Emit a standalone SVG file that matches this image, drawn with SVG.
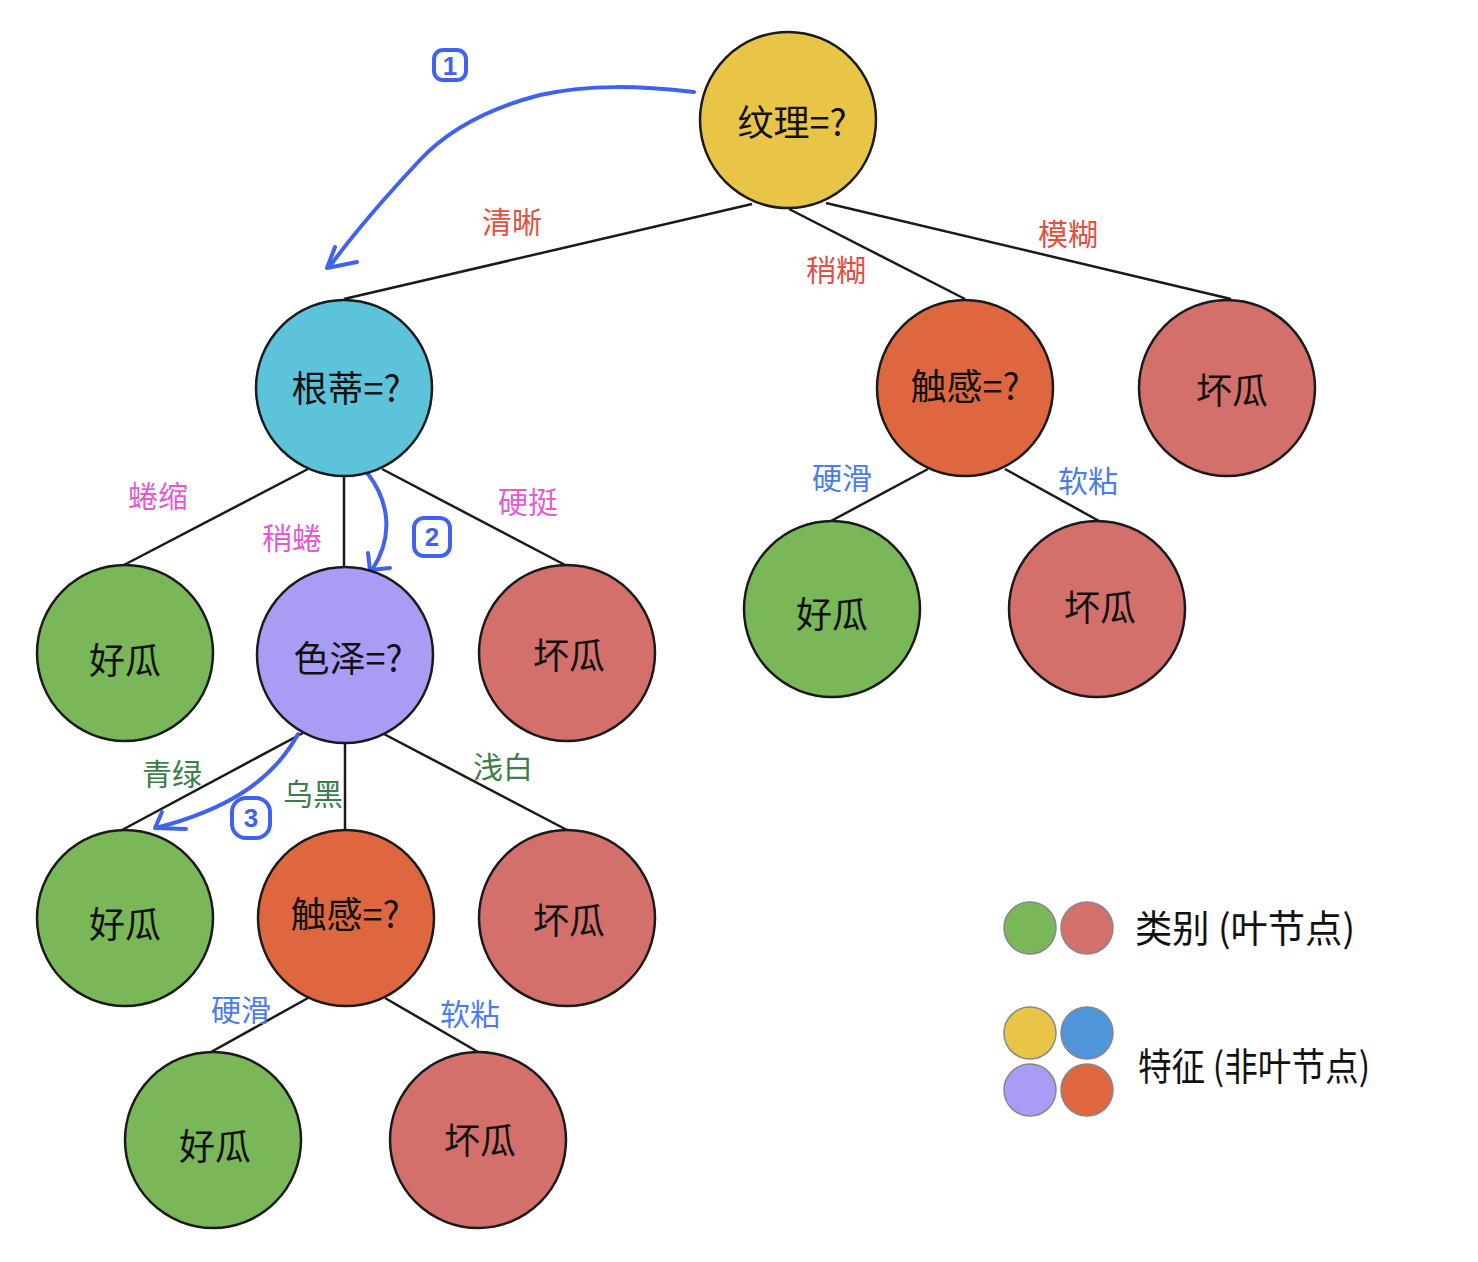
<svg xmlns="http://www.w3.org/2000/svg" width="1478" height="1262" viewBox="0 0 1478 1262">
<style>
.node{stroke:#1a1a1a;stroke-width:2.5}
.yellow{fill:#E8C547}.cyan{fill:#5CC3DB}.orange{fill:#DF6740}.red{fill:#D4706C}.green{fill:#79B758}.purple{fill:#A99CF5}.blue{fill:#4F95DA}
.nt{font-family:"Noto Sans CJK SC","Noto Sans",sans-serif;font-size:36px;fill:#111;text-anchor:middle;dominant-baseline:central}
.edge{stroke:#1a1a1a;stroke-width:2.5;fill:none}
.lab{font-family:"Noto Sans CJK SC","Noto Sans",sans-serif;font-size:30px;text-anchor:middle;dominant-baseline:central}
.r{fill:#E2503F}.m{fill:#E659D2}.g{fill:#3D7D4C}.b{fill:#4B7CEE}
.arrow{stroke:#3F63F0;stroke-width:4;fill:none;stroke-linecap:round;stroke-linejoin:round}
.num{font-family:"Liberation Sans",sans-serif;font-size:26px;font-weight:bold;fill:#3F63F0;text-anchor:middle;dominant-baseline:central}
.leg{stroke:#888;stroke-width:1.5}
.lt{font-family:"Noto Sans CJK SC","Noto Sans",sans-serif;font-size:38px;fill:#111;dominant-baseline:central}
</style>
<g id="connectors">
<line class="edge" x1="752" y1="204" x2="344" y2="299"/>
<line class="edge" x1="789" y1="209" x2="965" y2="299"/>
<line class="edge" x1="826" y1="203" x2="1231" y2="299"/>
<line class="edge" x1="308" y1="469" x2="122" y2="566"/>
<line class="edge" x1="344" y1="477" x2="344" y2="566"/>
<line class="edge" x1="382" y1="469" x2="567" y2="566"/>
<line class="edge" x1="928" y1="469" x2="831" y2="521"/>
<line class="edge" x1="1005" y1="469" x2="1099" y2="521"/>
<line class="edge" x1="303" y1="733" x2="122" y2="830"/>
<line class="edge" x1="345" y1="742" x2="345" y2="830"/>
<line class="edge" x1="382" y1="733" x2="567" y2="830"/>
<line class="edge" x1="308" y1="998" x2="211" y2="1052"/>
<line class="edge" x1="385" y1="998" x2="478" y2="1052"/>
<text class="lab r" x="512" y="220">清晰</text>
<text class="lab r" x="836" y="268">稍糊</text>
<text class="lab r" x="1068" y="232">模糊</text>
<text class="lab m" x="158" y="494">蜷缩</text>
<text class="lab m" x="292" y="536">稍蜷</text>
<text class="lab m" x="528" y="500">硬挺</text>
<text class="lab b" x="842" y="476">硬滑</text>
<text class="lab b" x="1088" y="479">软粘</text>
<text class="lab g" x="172" y="772">青绿</text>
<text class="lab g" x="313" y="792">乌黑</text>
<text class="lab g" x="503" y="765">浅白</text>
<text class="lab b" x="241" y="1008">硬滑</text>
<text class="lab b" x="470" y="1012">软粘</text>
</g>
<g id="steps">
<path class="arrow" d="M694,92 C640,86 590,84 540,95 C490,108 450,128 420,160 C390,192 360,225 330,266"/>
<path class="arrow" d="M335,247 L327,268 L357,262"/>
<rect class="arrow" x="434" y="50" width="32" height="30" rx="9"/>
<text class="num" x="450" y="66">1</text>
<path class="arrow" d="M368,474 C388,500 395,535 372,570"/>
<path class="arrow" d="M368,553 L370,570 L390,568"/>
<rect class="arrow" x="414" y="518" width="36" height="38" rx="10"/>
<text class="num" x="432" y="537">2</text>
<path class="arrow" d="M298,734 C272,782 225,810 156,828"/>
<path class="arrow" d="M162,812 L155,828 L186,829"/>
<rect class="arrow" x="232" y="798" width="38" height="40" rx="14"/>
<text class="num" x="251" y="818">3</text>
</g>
<g id="n-wenli"><circle class="node yellow" cx="788" cy="120" r="88"/><text class="nt" x="792" y="120">纹理=?</text></g>
<g id="n-gendi"><circle class="node cyan" cx="344" cy="388" r="88"/><text class="nt" x="346" y="386">根蒂=?</text></g>
<g id="n-chugan1"><circle class="node orange" cx="965" cy="388" r="88"/><text class="nt" x="965" y="384">触感=?</text></g>
<g id="n-huai1"><circle class="node red" cx="1227" cy="388" r="88"/><text class="nt" x="1232" y="388">坏瓜</text></g>
<g id="n-hao1"><circle class="node green" cx="125" cy="653" r="88"/><text class="nt" x="125" y="658">好瓜</text></g>
<g id="n-sezhe"><circle class="node purple" cx="345" cy="655" r="88"/><text class="nt" x="348" y="656">色泽=?</text></g>
<g id="n-huai2"><circle class="node red" cx="567" cy="653" r="88"/><text class="nt" x="569" y="653">坏瓜</text></g>
<g id="n-hao2"><circle class="node green" cx="832" cy="609" r="88"/><text class="nt" x="832" y="612">好瓜</text></g>
<g id="n-huai3"><circle class="node red" cx="1097" cy="609" r="88"/><text class="nt" x="1100" y="605">坏瓜</text></g>
<g id="n-hao3"><circle class="node green" cx="125" cy="918" r="88"/><text class="nt" x="125" y="922">好瓜</text></g>
<g id="n-chugan2"><circle class="node orange" cx="346" cy="918" r="88"/><text class="nt" x="345" y="912">触感=?</text></g>
<g id="n-huai4"><circle class="node red" cx="567" cy="918" r="88"/><text class="nt" x="569" y="918">坏瓜</text></g>
<g id="n-hao4"><circle class="node green" cx="213" cy="1140" r="88"/><text class="nt" x="215" y="1144">好瓜</text></g>
<g id="n-huai5"><circle class="node red" cx="478" cy="1140" r="88"/><text class="nt" x="480" y="1138">坏瓜</text></g>
<g id="legend">
<circle class="leg green" cx="1030" cy="928" r="26"/>
<circle class="leg red" cx="1087" cy="928" r="26"/>
<text class="lt" x="1135" y="925" textLength="220" lengthAdjust="spacingAndGlyphs">类别 (叶节点)</text>
<circle class="leg yellow" cx="1030" cy="1033" r="26"/>
<circle class="leg blue" cx="1087" cy="1033" r="26"/>
<circle class="leg purple" cx="1030" cy="1090" r="26"/>
<circle class="leg orange" cx="1087" cy="1090" r="26"/>
<text class="lt" x="1138" y="1063" textLength="232" lengthAdjust="spacingAndGlyphs">特征 (非叶节点)</text>
</g>
</svg>
